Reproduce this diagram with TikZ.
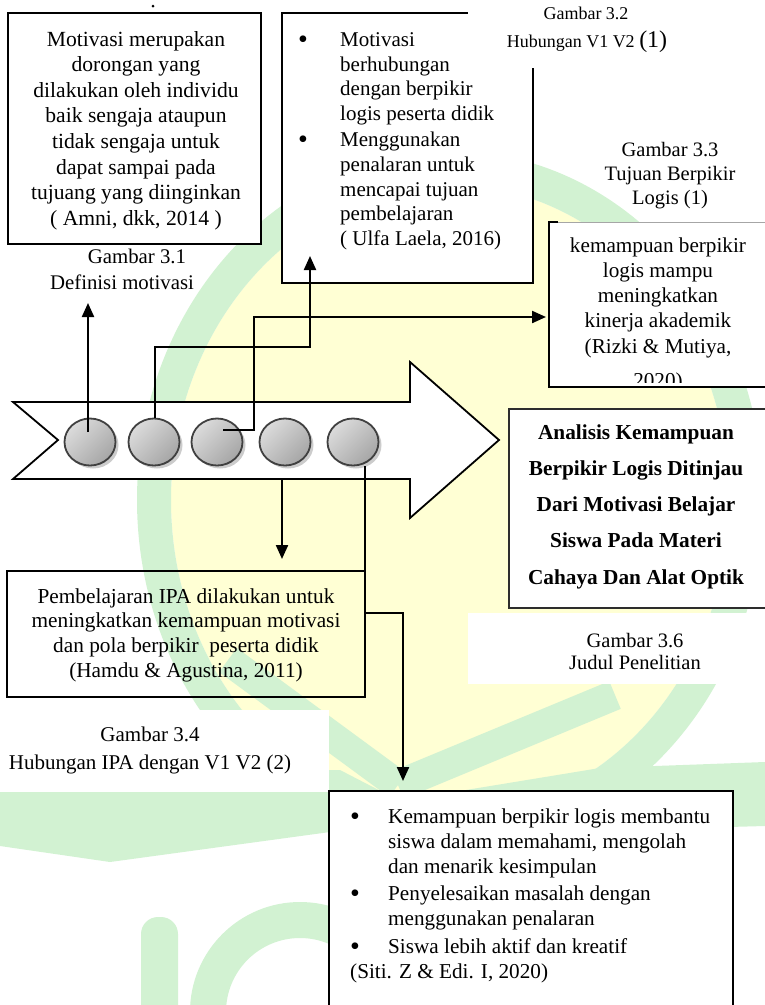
\documentclass[tikz,border=0pt]{standalone}
\usepackage{fontspec}
\setmainfont{Liberation Serif}
\usetikzlibrary{arrows.meta,shapes.geometric,shadows,calc}
\definecolor{wmy}{HTML}{FFFFD4}
\definecolor{wmg}{HTML}{D2F2D2}
\newcommand\fsA{\fontsize{21.6}{25.6}\selectfont}
\newcommand\fsBx{\fontsize{21}{24.6}\selectfont}
\newcommand\fsC{\fontsize{21.2}{25.3}\selectfont}
\newcommand\fsD{\fontsize{21.3}{36.3}\selectfont\bfseries}
\newcommand\fsE{\fontsize{21.3}{24.8}\selectfont}
\newcommand\fsF{\fontsize{21.2}{25}\selectfont}
\newcommand\fsCapA{\fontsize{20.8}{26.5}\selectfont}
\newcommand\fsCapB{\fontsize{20.5}{24}\selectfont}
\newcommand\fsCapC{\fontsize{21}{28}\selectfont}
\newcommand\fsCapD{\fontsize{20.5}{22}\selectfont}
\newcommand\fsSmall{\fontsize{18}{18}\selectfont}
\newcommand\mybul[1]{\makebox[#1][l]{\raisebox{-2pt}{\fontsize{28}{28}\selectfont\textbullet}}}
\newcommand\myind[1]{\hspace*{#1}}
\begin{document}
\begin{tikzpicture}[x=1pt,y=-1pt,
  box/.style={draw=black,line width=1.8pt},
  conn/.style={line width=2.2pt,-{Triangle[length=14pt,width=12pt]}},
  txt/.style={inner sep=0pt,anchor=base},
  ball/.style={ellipse,minimum width=51pt,minimum height=47pt,inner sep=0pt,
    draw=gray!50!black,line width=1.8pt,shading=axis,top color=gray!28,
    bottom color=gray!70,shading angle=45,
    drop shadow={shadow xshift=3pt,shadow yshift=-3pt,fill=gray!40,opacity=1}}
]
\useasboundingbox (0,0) rectangle (765,1005);
% ---------- watermark ----------
\fill[wmy] (450,500) ellipse [x radius=279pt, y radius=315pt];
\fill[wmg,even odd rule] (450,500) ellipse [x radius=313pt, y radius=349pt]
  (450,500) ellipse [x radius=279pt, y radius=315pt];
\draw[wmg,line width=30pt] (228,660) -- (398,785);
\draw[wmg,line width=30pt] (398,785) -- (615,695);
\fill[wmg] (0,770) -- (340,770) -- (398,800) -- (330,832) -- (110,862) -- (0,846) -- cycle;
\fill[wmg] (405,800) -- (600,768) -- (765,762) -- (765,826) -- (620,830) -- cycle;
\fill[wmg,rounded corners=17pt] (141,917) rectangle (178,1040);
\begin{scope}
  \clip (180,880) rectangle (345,1005);
  \draw[wmg,line width=36pt] (300,1012) circle (92pt);
\end{scope}
% ---------- white label backgrounds ----------
\fill[white] (468,613) rectangle (765,684);
\fill[white] (0,710) rectangle (329,792);
% ---------- boxes ----------
\node[circle,fill=black,inner sep=0pt,minimum size=3pt] (dot) at (153,6) {};
\draw[box,fill=white] (8,13) rectangle (261,244);
\draw[box,fill=white] (282,13) rectangle (533,283);
\fill[white] (468,0) rectangle (765,68);
\fill[white] (549,222) rectangle (770,387);
\draw[gray!70,line width=0.9pt] (549,222) -- (770,222);
\draw[black,line width=1.8pt] (558,222) -- (549,222) -- (549,387) -- (770,387);
\draw[draw=gray!35!black,line width=1.1pt,fill=white] (509,409) rectangle (770,608);
\draw[box] (7,571) rectangle (365,697);
\draw[box,fill=white] (329,791) rectangle (733,1020);
% ---------- big arrow ----------
\draw[line width=1.8pt,fill=white,line join=miter] (13,402) -- (410,402) -- (410,362) -- (499,440)
  -- (410,518) -- (410,479) -- (13,479) -- (58,440) -- cycle;
% ---------- circles ----------
\node[ball] (c1) at (90,442) {};
\node[ball] (c2) at (154,442) {};
\node[ball] (c3) at (217,442) {};
\node[ball] (c4) at (285,442) {};
\node[ball] (c5) at (353,442) {};
% ---------- connector ends ----------
\coordinate (e1) at (88,303);
\coordinate (k2) at (310,347);
\coordinate (e2) at (310,256);
\coordinate (k3) at (254,317);
\coordinate (e3) at (546,317);
\coordinate (s4) at (282,479);
\coordinate (e4) at (282,559);
\coordinate (k5) at (403,613);
\coordinate (e5) at (403,781);
\draw[conn] ([xshift=-2pt,yshift=10pt]c1.center) -- (e1);
\draw[conn] ([xshift=1pt]c2.north) |- (k2) -- (e2);
\draw[conn] ([xshift=6pt,yshift=12pt]c3.center) -| (k3) -- (e3);
\draw[conn] (s4) -- (e4);
\draw[conn] ([xshift=12pt]c5.south) |- (k5) -- (e5);
% ---------- texts ----------
\node[txt,font=\fsA] (tA) at (136,46) {\begin{tabular}[t]{@{}c@{}}Motivasi merupakan\\dorongan yang\\dilakukan oleh individu\\baik sengaja ataupun\\tidak sengaja untuk\\dapat sampai pada\\tujuang yang diinginkan\\( Amni, dkk, 2014 )\end{tabular}};
\node[txt,font=\fsCapA] (capA) at (122,263) {\begin{tabular}[t]{@{}c@{}}\hspace*{30pt}Gambar 3.1\\Definisi motivasi\end{tabular}};
\node[txt,anchor=base west,font=\fsBx] (tB) at (298,46.5) {\begin{tabular}[t]{@{}l@{}}\mybul{42pt}Motivasi\\\myind{42pt}berhubungan\\\myind{42pt}dengan berpikir\\\myind{42pt}logis peserta didik\\[2pt]\mybul{42pt}Menggunakan\\\myind{42pt}penalaran untuk\\\myind{42pt}mencapai tujuan\\\myind{42pt}pembelajaran\\\myind{42pt}( Ulfa Laela, 2016)\end{tabular}};
\node[txt,font=\fsSmall] (capB1) at (586,19) {Gambar 3.2};
\node[txt,font=\fsSmall] (capB2) at (587,47) {Hubungan V1 V2 {\fontsize{24}{24}\selectfont(1)}};
\node[txt,font=\fsCapB] (capC) at (670,156) {\begin{tabular}[t]{@{}c@{}}Gambar 3.3\\Tujuan Berpikir\\Logis (1)\end{tabular}};
\begin{scope}
  \clip (551,224) rectangle (765,382);
  \node[txt,font=\fsC] (tC) at (658,252) {\begin{tabular}[t]{@{}c@{}}kemampuan berpikir\\logis mampu\\meningkatkan\\kinerja akademik\\(Rizki \& Mutiya,\\[9pt]2020)\end{tabular}};
\end{scope}
\node[txt,font=\fsD] (tD) at (636,439) {\begin{tabular}[t]{@{}c@{}}Analisis Kemampuan\\Berpikir Logis Ditinjau\\Dari Motivasi Belajar\\Siswa Pada Materi\\Cahaya Dan Alat Optik\end{tabular}};
\node[txt,font=\fsCapD] (capD) at (635,647) {\begin{tabular}[t]{@{}c@{}}Gambar 3.6\\Judul Penelitian\end{tabular}};
\node[txt,font=\fsE] (tE) at (186,603) {\begin{tabular}[t]{@{}c@{}}Pembelajaran IPA dilakukan untuk\\meningkatkan kemampuan motivasi\\dan pola berpikir\ \ peserta didik\\(Hamdu \& Agustina, 2011)\end{tabular}};
\node[txt,font=\fsCapC] (capE) at (150,741) {\begin{tabular}[t]{@{}c@{}}Gambar 3.4\\Hubungan IPA dengan V1 V2 (2)\end{tabular}};
\node[txt,anchor=base west,font=\fsF] (tF) at (350,823) {\begin{tabular}[t]{@{}l@{}}\mybul{38pt}Kemampuan berpikir logis membantu\\\myind{38pt}siswa dalam memahami, mengolah\\\myind{38pt}dan menarik kesimpulan\\[2pt]\mybul{38pt}Penyelesaikan masalah dengan\\\myind{38pt}menggunakan penalaran\\[3pt]\mybul{38pt}Siswa lebih aktif dan kreatif\\(Siti. Z \& Edi. I, 2020)\end{tabular}};
\end{tikzpicture}
\end{document}
